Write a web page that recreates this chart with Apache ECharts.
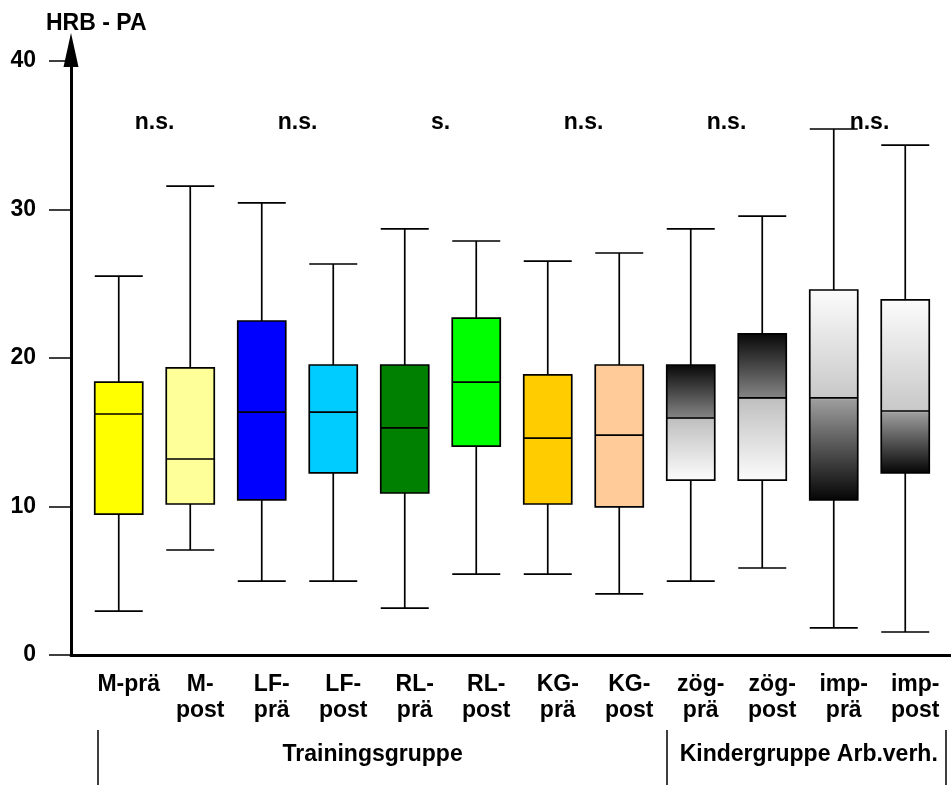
<!DOCTYPE html>
<html><head><meta charset="utf-8">
<script src="https://cdn.jsdelivr.net/npm/echarts@6/dist/echarts.min.js"></script>
<style>html,body{margin:0;padding:0;background:#fff}#c{width:951px;height:785px}</style>
</head><body><div id="c"></div>
<script>
// ---- data ----
const categories = ['M-prä','M-\npost','LF-\nprä','LF-\npost','RL-\nprä','RL-\npost','KG-\nprä','KG-\npost','zög-\nprä','zög-\npost','imp-\nprä','imp-\npost'];
const lowWhisker  = [2.96, 7.07, 4.98, 4.98, 3.16, 5.45, 5.45, 4.11, 4.98, 5.86, 1.82, 1.55];
const q1          = [9.49, 10.17, 10.44, 12.26, 10.91, 14.07, 10.17, 9.97, 11.78, 11.78, 10.44, 12.26];
const median      = [16.23, 13.20, 16.36, 16.36, 15.29, 18.38, 14.61, 14.81, 15.96, 17.31, 17.31, 16.43];
const q3          = [18.38, 19.33, 22.49, 19.53, 19.53, 22.69, 18.86, 19.53, 19.53, 21.62, 24.58, 23.91];
const highWhisker = [25.52, 31.58, 30.44, 26.33, 28.69, 27.88, 26.53, 27.07, 28.69, 29.56, 35.42, 34.34];
const sigLabels = ['n.s.','n.s.','s.','n.s.','n.s.','n.s.'];
const sigPairX  = [0.5, 2.5, 4.5, 6.5, 8.5, 10.5];
const sigY = 35.86;
const groupNames = ['Trainingsgruppe', 'Kindergruppe Arb.verh.'];

// ---- styles / layout ----
const FONT = 'Liberation Sans, Arial, sans-serif';
const FS = 23;
const groupLabelAt = [3.55, 9.65];
const groupSeparators = [-0.3, 7.67, 11.56];
const AX_MIN = -0.668, AX_MAX = 11.64;
const fillStyles = ['#FFFF00','#FFFF99','#0000FF','#00CCFF','#008000','#00FF00','#FFCC00','#FFCC99','dark','dark','light','light'];
const gradColors = {
  dark:  ['#080808', '#858585', '#c0c0c0', '#fcfcfc'],
  light: ['#fcfcfc', '#c8c8c8', '#9c9c9c', '#050505']
};
function fillFor(i) {
  const f = fillStyles[i];
  if (!gradColors[f]) return f;
  const c = gradColors[f];
  // boxplot element spans whisker-to-whisker; place the stops on the box
  const span = highWhisker[i] - lowWhisker[i];
  const f3 = (highWhisker[i] - q3[i]) / span;
  const fm = (highWhisker[i] - median[i]) / span;
  const f1 = (highWhisker[i] - q1[i]) / span;
  return {type: 'linear', x: 0, y: 0, x2: 0, y2: 1, colorStops: [
    {offset: 0, color: c[0]}, {offset: f3, color: c[0]},
    {offset: fm, color: c[1]}, {offset: Math.min(fm + 0.004, 1), color: c[2]},
    {offset: f1, color: c[3]}, {offset: 1, color: c[3]}
  ]};
}

const chart = echarts.init(document.getElementById('c'));
chart.setOption({
  animation: false,
  backgroundColor: '#fff',
  title: {text: 'HRB - PA', left: 41, top: 7, textStyle: {fontSize: FS, fontWeight: 'bold', color: '#000', fontFamily: FONT}},
  grid: [
    {left: 83, right: 10, top: 61, bottom: 130},
    {left: 71, right: 0, top: 61, bottom: 130},
    {left: 71, right: 0, top: 61, bottom: 55}
  ],
  xAxis: [
    {type: 'category', gridIndex: 0, data: categories,
     axisLine: {show: false}, axisTick: {show: false}, splitLine: {show: false},
     axisLabel: {interval: 0, fontSize: FS, fontWeight: 'bold', color: '#000', fontFamily: FONT, lineHeight: 26, margin: 17, padding: [0, 0, 0, 20]}},
    {type: 'value', gridIndex: 1, min: AX_MIN, max: AX_MAX,
     axisLine: {show: true, onZero: false, lineStyle: {color: '#000', width: 3}},
     axisTick: {show: false}, axisLabel: {show: false}, splitLine: {show: false}},
    {type: 'value', gridIndex: 2, min: AX_MIN, max: AX_MAX, position: 'bottom',
     axisLine: {show: false, onZero: false},
     axisTick: {show: true, inside: false, customValues: groupSeparators, length: 55, lineStyle: {color: '#000', width: 1.5}},
     axisLabel: {show: true, customValues: groupLabelAt, formatter: v => groupNames[groupLabelAt.indexOf(v)] || '',
                 fontSize: FS, fontWeight: 'bold', color: '#000', fontFamily: FONT, margin: 13},
     splitLine: {show: false}}
  ],
  yAxis: [
    {type: 'value', gridIndex: 0, min: 0, max: 40, interval: 10, show: false, splitLine: {show: false}},
    {type: 'value', gridIndex: 1, min: 0, max: 40, interval: 10,
     axisLine: {show: true, onZero: false, lineStyle: {color: '#000', width: 3}, symbol: ['none', 'triangle'], symbolSize: [15, 34], symbolOffset: [0, 11]},
     axisTick: {show: true, inside: false, length: 22, lineStyle: {color: '#000', width: 1.5}},
     axisLabel: {fontSize: FS, fontWeight: 'bold', color: '#000', fontFamily: FONT, margin: 35},
     splitLine: {show: false}},
    {type: 'value', gridIndex: 2, min: 0, max: 40, show: false, splitLine: {show: false}}
  ],
  series: [
    {type: 'boxplot', xAxisIndex: 0, yAxisIndex: 0, boxWidth: [48, 48],
     itemStyle: {borderColor: '#000', borderWidth: 1.7},
     emphasis: {disabled: true},
     data: categories.map((c, i) => ({value: [lowWhisker[i], q1[i], median[i], q3[i], highWhisker[i]], itemStyle: {color: fillFor(i)}}))},
    {type: 'scatter', xAxisIndex: 1, yAxisIndex: 1, symbol: 'circle', symbolSize: 0.1, itemStyle: {color: '#ffffff', opacity: 1},
     silent: true, emphasis: {disabled: true},
     data: sigPairX.map(x => [x, sigY]),
     label: {show: true, position: 'inside', formatter: p => sigLabels[p.dataIndex], fontSize: FS, fontWeight: 'bold', color: '#000000', opacity: 1, textBorderWidth: 0, fontFamily: FONT}}
  ]
});
</script></body></html>
